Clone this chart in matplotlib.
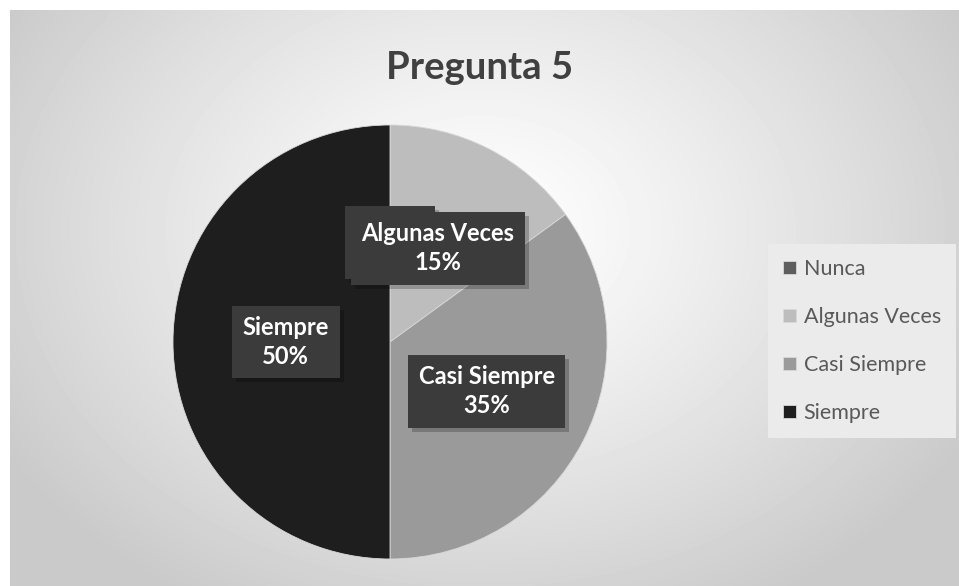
import numpy as np
import matplotlib
matplotlib.use("Agg")
import matplotlib.pyplot as plt
from matplotlib.transforms import offset_copy

plt.rcParams['font.family'] = ['Lato', 'DejaVu Sans']

categories = ['Nunca', 'Algunas Veces', 'Casi Siempre', 'Siempre']
values = [0, 15, 35, 50]
colors = ['#5e5e5e', '#bdbdbd', '#9a9a9a', '#1e1e1e']

W, H = 959, 586
fig = plt.figure(figsize=(W / 100, H / 100), dpi=100)
fig.patch.set_facecolor('white')

# background panel with radial gradient
bg = fig.add_axes([10 / W, 0, (W - 10) / W, (H - 10) / H])
yy, xx = np.mgrid[0:576, 0:949]
d = np.sqrt(((xx - 470) / 560.0) ** 2 + ((yy - 220) / 430.0) ** 2)
shade = 1.0 - 0.21 * np.clip(d, 0, 1) ** 1.2
bg.imshow(shade, cmap='gray', vmin=0, vmax=1, aspect='auto', interpolation='bilinear')
bg.axis('off')

fig.text(480 / W, 1 - 68 / H, 'Pregunta 5', ha='center', va='center',
         fontsize=27.5, fontweight='bold', color='#404040')

# pie
cx, cy, r = 390, 342, 217
ax = fig.add_axes([(cx - r) / W, (H - cy - r) / H, 2 * r / W, 2 * r / H])
wedges, _ = ax.pie(values, colors=colors, startangle=90, counterclock=False,
                   radius=1.0, wedgeprops=dict(edgecolor='#d8d8d8', linewidth=0.6))
ax.set_xlim(-1, 1)
ax.set_ylim(-1, 1)
ax.set_aspect('equal')
ax.axis('off')

total = sum(values)
label_dist = [0.46, 0.485, 0.50, 0.48]
box = dict(boxstyle='square,pad=0.45', facecolor='#3b3b3b', edgecolor='none')
shadow = dict(boxstyle='square,pad=0.45', facecolor='#000000', edgecolor='none', alpha=0.22)
start = 90.0
for i, (cat, v) in enumerate(zip(categories, values)):
    ang = start - 360.0 * v / total / 2
    start -= 360.0 * v / total
    x = label_dist[i] * np.cos(np.radians(ang))
    y = label_dist[i] * np.sin(np.radians(ang))
    txt = f'{cat}\n{v}%'
    sh_tr = offset_copy(ax.transData, fig=fig, x=4, y=-4, units='dots')
    ax.text(x, y, txt, transform=sh_tr, ha='center', va='center', fontsize=17,
            fontweight='bold', color='none', bbox=shadow, linespacing=1.3,
            zorder=5 + 2 * i)
    ax.text(x, y, txt, ha='center', va='center', fontsize=17, fontweight='bold',
            color='white', bbox=box, linespacing=1.3, zorder=6 + 2 * i)

leg = fig.legend(wedges, categories, loc='center left',
                 bbox_to_anchor=(768 / W, 1 - 341 / H), frameon=True,
                 fontsize=15.5, labelcolor='#595959', handlelength=0.6,
                 handleheight=0.6, handletextpad=0.35, labelspacing=1.3,
                 borderpad=0.7, borderaxespad=0, fancybox=False)
leg.get_frame().set_facecolor('#ebebeb')
leg.get_frame().set_edgecolor('none')
leg.get_frame().set_alpha(1)

fig.savefig('out.png', dpi=100)
